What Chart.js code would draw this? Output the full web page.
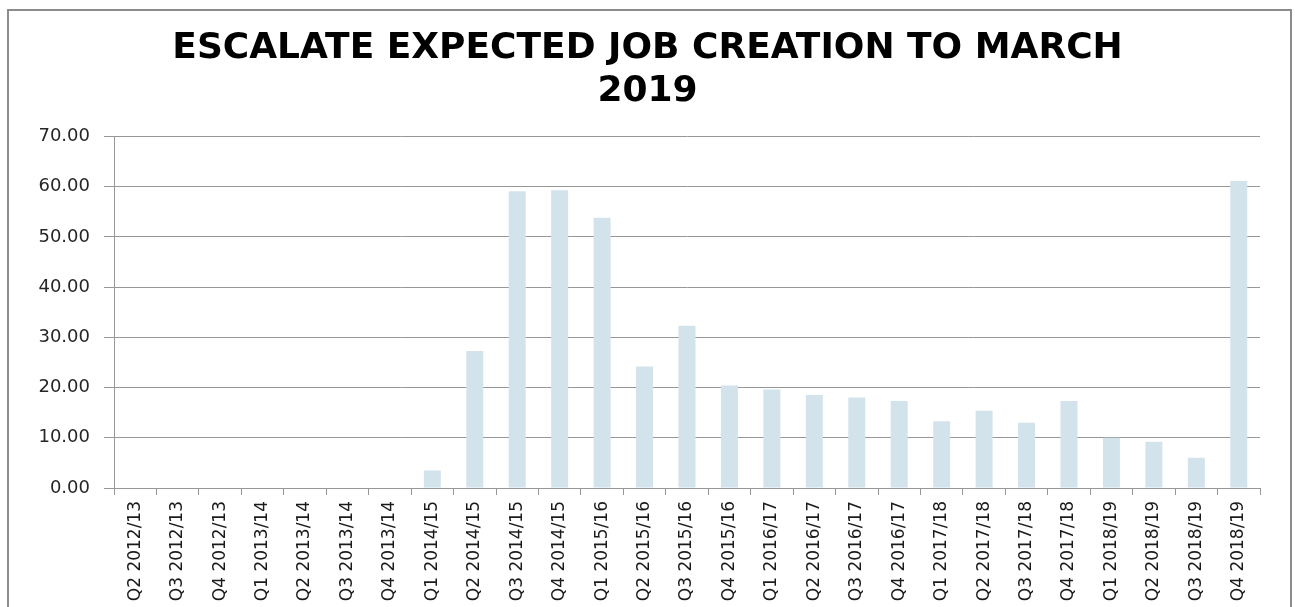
<!DOCTYPE html>
<html lang="en">
<head>
  <meta charset="UTF-8">
  <title>Escalate expected job creation to March 2019</title>
  <script src="https://cdn.jsdelivr.net/npm/chart.js"></script>
  <style>
    body {
      margin: 0;
      background: #fff;
      overflow: hidden;
    }
    .wrap {
      position: relative;
      width: 1295px;
      height: 607px;
    }
    /* outer frame of the chart box, cut by the bottom of the window */
    .frame {
      position: absolute;
      left: 7px;
      top: 9px;
      width: 1281px;
      height: 640px;
      border: 2px solid #8c8c8c;
      pointer-events: none;
    }
  </style>
</head>
<body>
  <div class="wrap">
    <canvas id="jobsChart" width="1295" height="607"></canvas>
    <div class="frame"></div>
  </div>

  <script>
    const quarters = [
      'Q2 2012/13', 'Q3 2012/13', 'Q4 2012/13',
      'Q1 2013/14', 'Q2 2013/14', 'Q3 2013/14', 'Q4 2013/14',
      'Q1 2014/15', 'Q2 2014/15', 'Q3 2014/15', 'Q4 2014/15',
      'Q1 2015/16', 'Q2 2015/16', 'Q3 2015/16', 'Q4 2015/16',
      'Q1 2016/17', 'Q2 2016/17', 'Q3 2016/17', 'Q4 2016/17',
      'Q1 2017/18', 'Q2 2017/18', 'Q3 2017/18', 'Q4 2017/18',
      'Q1 2018/19', 'Q2 2018/19', 'Q3 2018/19', 'Q4 2018/19'
    ];
    const expectedJobs = [
      0, 0, 0,
      0, 0, 0, 0,
      3.5, 27.3, 59.1, 59.3,
      53.8, 24.2, 32.3, 20.4,
      19.6, 18.5, 18.0, 17.3,
      13.3, 15.4, 13.0, 17.3,
      10.0, 9.2, 6.0, 61.1
    ];
    const titleLines = ['ESCALATE EXPECTED JOB CREATION TO MARCH', '2019'];
    const yTicks = { min: 0, max: 70, step: 10 };

    const gridGrey = '#979797';

    new Chart(document.getElementById('jobsChart'), {
      type: 'bar',
      data: {
        labels: quarters,
        datasets: [{
          label: 'Expected job creation',
          data: expectedJobs,
          backgroundColor: '#d2e3eb',
          borderWidth: 0,
          categoryPercentage: 1,
          barPercentage: 0.4
        }]
      },
      options: {
        responsive: false,
        animation: false,
        // equal side padding keeps the title centred on the whole box
        layout: { padding: { top: 0, right: 35, bottom: 0, left: 35 } },
        plugins: {
          legend: { display: false },
          tooltip: { enabled: false },
          title: {
            display: true,
            text: titleLines,
            color: '#000',
            font: { family: 'DejaVu Sans', size: 36, weight: 'bold', lineHeight: 1.2 },
            padding: { top: 27, bottom: 23 }
          }
        },
        scales: {
          x: {
            grid: {
              offset: true,
              drawOnChartArea: false,
              drawTicks: true,
              tickLength: 7,
              color: gridGrey
            },
            border: { color: gridGrey, width: 1 },
            ticks: {
              autoSkip: false,
              minRotation: 90,
              maxRotation: 90,
              padding: 6,
              color: '#1a1a1a',
              font: { family: 'DejaVu Sans', size: 17 }
            },
            afterFit: (scale) => { scale.height = 119; }
          },
          y: {
            min: yTicks.min,
            max: yTicks.max,
            grid: {
              color: gridGrey,
              tickLength: 10
            },
            border: { color: gridGrey, width: 1 },
            ticks: {
              stepSize: yTicks.step,
              padding: 14,
              color: '#262626',
              font: { family: 'DejaVu Sans', size: 18 },
              callback: (v) => Number(v).toFixed(2)
            },
            afterFit: (scale) => { scale.width = 79; }
          }
        }
      }
    });
  </script>
</body>
</html>
